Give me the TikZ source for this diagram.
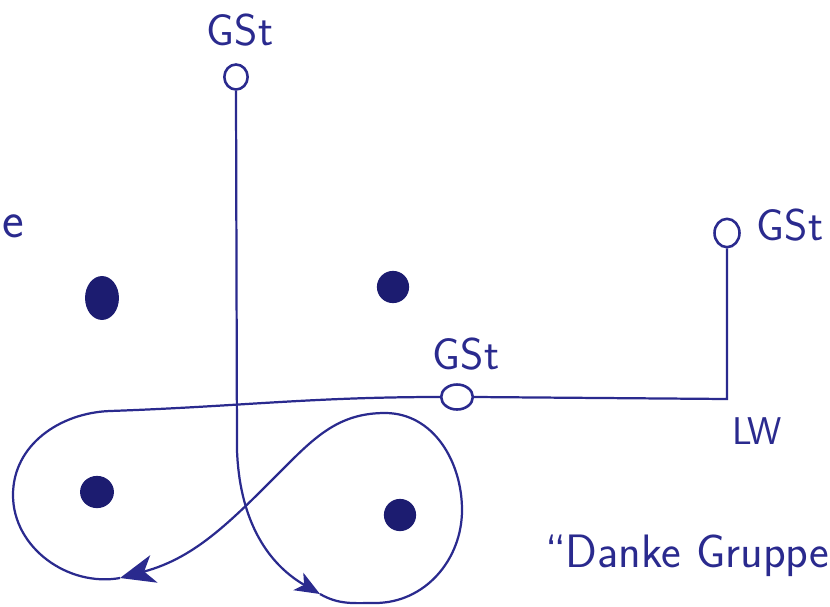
\documentclass[tikz,border=0pt]{standalone}
\usepackage{tikz}
\usetikzlibrary{positioning,arrows.meta,calc,shapes.geometric}
\definecolor{ink}{RGB}{42,42,142}
\definecolor{blot}{RGB}{28,28,112}

\begin{document}
\begin{tikzpicture}[x=0.03cm,y=-0.03cm,line width=1.9pt,color=ink,
  stn/.style={draw=ink,ellipse,inner sep=0pt,line width=2.2pt,minimum width=0.7cm,minimum height=0.75cm},
  blotdot/.style={draw=blot,fill=blot,ellipse,inner sep=0pt,minimum width=0.9cm,minimum height=0.9cm},
  lbl/.style={text=ink,inner sep=0pt,font=\sffamily\fontsize{38}{42}\selectfont},
  tipbig/.style={-{Stealth[length=1.05cm,width=0.85cm,inset=0.3cm]}},
  tipsmall/.style={-{Stealth[length=0.75cm,width=0.6cm,inset=0.2cm]}}]
\useasboundingbox (0,0) rectangle (830,606);
% stations
\node[stn] (gstTop) at (236,77) {};
\node[stn,minimum width=0.95cm,minimum height=0.75cm] (gstMid) at (457,397) {};
\node[stn,minimum width=0.75cm,minimum height=0.85cm] (gstRight) at (727,233) {};
\node[lbl] (lblTop) at (240,30) {GSt};
\node[lbl] (lblMid) at (466,354) {GSt};
\node[lbl] (lblRight) at (790,225) {GSt};
% blots
\node[blotdot,minimum width=0.95cm,minimum height=1.25cm] (blotA) at (102,298) {};
\node[blotdot] (blotB) at (393,287) {};
\node[blotdot,minimum width=0.95cm] (blotC) at (97,492) {};
\node[blotdot] (blotD) at (400,515) {};
% figure eight
\coordinate (tipA) at (320,594);
\coordinate (tipB) at (120,578);
\draw[tipsmall] (gstTop.south) -- (237,450) to[out=-88,in=150] (tipA);
\draw[tipbig] (tipA) to[out=-30,in=180] (375,603) to[out=0,in=-90] (462,510)
  to[out=90,in=0] (385,413) to[out=180,in=45] (290,462) to[out=225,in=15] (tipB);
\draw (tipB) to[out=190,in=-90] (13,495) to[out=90,in=182] (110,411)
  to[out=2,in=180] (gstMid.west);
% line to LW
\coordinate (lwCorner) at (727,399);
\draw (gstMid.east) -- (lwCorner) -- (gstRight.south);
\node[lbl,font=\sffamily\fontsize{33}{36}\selectfont] (lblLW) at (757,431) {LW};
% texts
\node[lbl,anchor=base west,font=\sffamily\fontsize{40}{44}\selectfont] (thanks) at (544,567) {``Danke Gruppe};
\node[lbl,font=\sffamily\fontsize{44}{48}\selectfont] (edgeE) at (13,226) {e};
\end{tikzpicture}
\end{document}
